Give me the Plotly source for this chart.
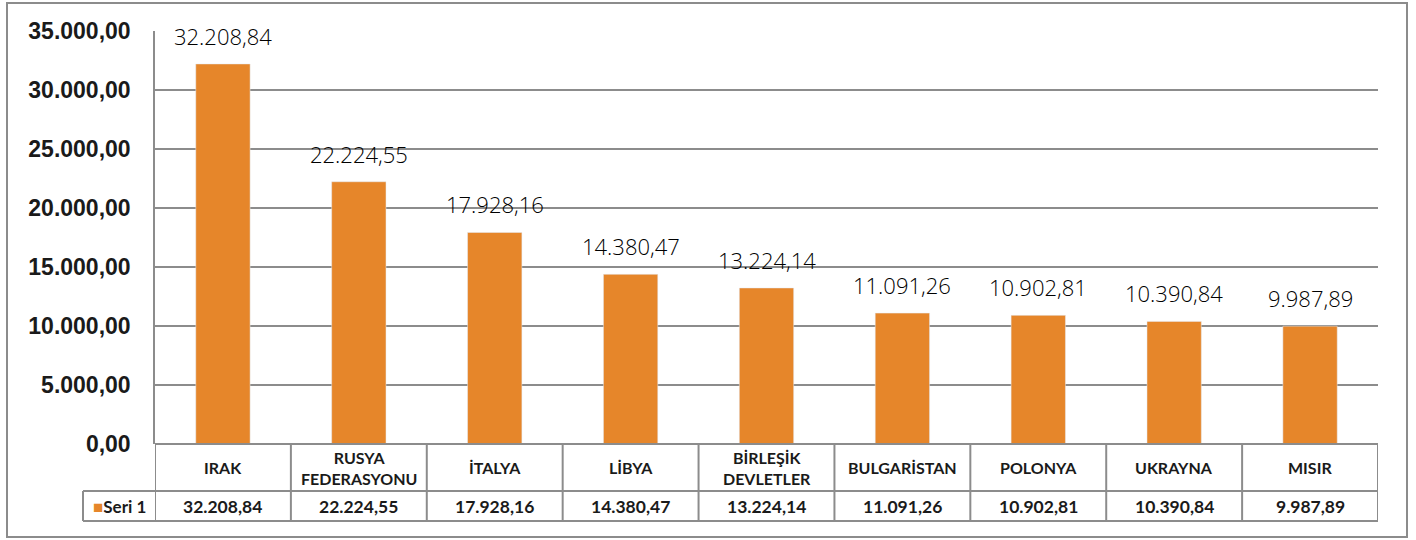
import plotly.graph_objects as go

# ihracat verisi (Seri 1)
countries = ["IRAK", "RUSYA<br>FEDERASYONU", "İTALYA", "LİBYA", "BİRLEŞİK<br>DEVLETLER",
             "BULGARİSTAN", "POLONYA", "UKRAYNA", "MISIR"]
values = [32208.84, 22224.55, 17928.16, 14380.47, 13224.14, 11091.26, 10902.81, 10390.84, 9987.89]
y_ticks = [0, 5000, 10000, 15000, 20000, 25000, 30000, 35000]
series_name = "Seri 1"

BAR = "#E6862A"
LINE = "#8C8C8C"
W, H = 1416, 540
L, R, T, B = 155, 38, 31, 96
pw, ph = W - L - R, H - T - B


def px_x(p):
    return (p - L) / pw


def px_y(p):
    return (H - B - p) / ph


def fmt(v):
    s = f"{v:,.2f}"
    return s.replace(",", "X").replace(".", ",").replace("X", ".")


xs = list(range(len(countries)))

fig = go.Figure()
fig.add_trace(go.Bar(
    x=xs, y=values, marker_color=BAR, width=0.4,
    name=series_name, showlegend=False, hoverinfo="y",
))

row1 = px_y(491)
row2 = px_y(521)
n = len(countries)
shapes = []
line = dict(color=LINE, width=2)
# tablo çizgileri
shapes.append(dict(type="line", xref="x", yref="paper", x0=-0.5, x1=n - 0.5, y0=0, y1=0, line=line))
for yy in (row1, row2):
    shapes.append(dict(type="line", xref="paper", yref="paper", x0=px_x(83), x1=1, y0=yy, y1=yy, line=line))
for i in range(n + 1):
    shapes.append(dict(type="line", xref="x", yref="paper", x0=i - 0.5, x1=i - 0.5, y0=0, y1=row2, line=line))
shapes.append(dict(type="line", xref="paper", yref="paper", x0=px_x(83), x1=px_x(83), y0=row1, y1=row2, line=line))
# dış çerçeve
shapes.append(dict(type="rect", xref="paper", yref="paper", x0=px_x(7), x1=px_x(1407),
                   y0=px_y(537), y1=px_y(3), line=dict(color=LINE, width=2), layer="below"))

annotations = []
for i, (c, v) in enumerate(zip(countries, values)):
    # çubuk üstü değer etiketi
    annotations.append(dict(x=i, y=v, xref="x", yref="y", text=fmt(v),
                            xanchor="center", yanchor="bottom", yshift=11, showarrow=False,
                            font=dict(family="Open Sans", size=22, color="#000000", weight=300)))
    annotations.append(dict(x=i, y=(0 + row1) / 2, xref="x", yref="paper", text=f"<b>{c}</b>",
                            xanchor="center", yanchor="middle", showarrow=False,
                            font=dict(family="Lato", size=16, color="#1a1a1a")))
    annotations.append(dict(x=i, y=(row1 + row2) / 2, xref="x", yref="paper", text=f"<b>{fmt(v)}</b>",
                            xanchor="center", yanchor="middle", showarrow=False,
                            font=dict(family="Lato", size=17.5, color="#1a1a1a")))
annotations.append(dict(x=px_x(119), y=(row1 + row2) / 2, xref="paper", yref="paper",
                        text=f"<span style='color:{BAR}'>■</span><b>{series_name}</b>",
                        xanchor="center", yanchor="middle", showarrow=False,
                        font=dict(family="Lato", size=17, color="#1a1a1a")))

fig.update_layout(
    width=W, height=H,
    margin=dict(l=L, r=R, t=T, b=B),
    plot_bgcolor="white", paper_bgcolor="white",
    separators=",.",
    bargap=0.6,
    shapes=shapes, annotations=annotations,
    xaxis=dict(range=[-0.5, n - 0.5], showticklabels=False, showgrid=False, zeroline=False, fixedrange=True),
    yaxis=dict(range=[0, 35000], tickvals=y_ticks, tickformat=",.2f", showgrid=True, gridcolor=LINE,
               gridwidth=1.5, showline=True, linecolor=LINE, linewidth=1.5, zeroline=False,
               ticklabelstandoff=18,
               tickfont=dict(family="Liberation Sans", size=23, color="#1a1a1a", weight="bold")),
)

fig.write_html("out.html", config={"displayModeBar": False},
               post_script="document.body.style.margin='0';")
